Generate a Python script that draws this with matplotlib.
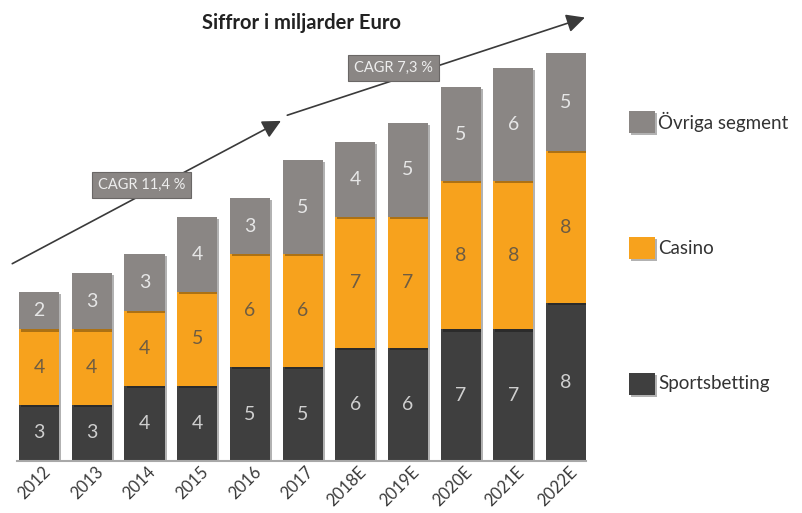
import matplotlib
matplotlib.use('Agg')
import matplotlib.pyplot as plt
import matplotlib.patheffects as pe
import matplotlib.transforms as mtransforms
from matplotlib.patches import Rectangle
import numpy as np

plt.rcParams['font.family'] = ['Lato', 'DejaVu Sans']

# Data (miljarder Euro)
years = ['2012', '2013', '2014', '2015', '2016', '2017',
         '2018E', '2019E', '2020E', '2021E', '2022E']
sportsbetting = [3, 3, 4, 4, 5, 5, 6, 6, 7, 7, 8.4]
casino = [4, 4, 4, 5, 6, 6, 7, 7, 7.9, 7.9, 8.1]
ovriga = [2, 3, 3, 4, 3, 5, 4, 5, 5, 6, 5.2]

series = [('Sportsbetting', sportsbetting, '#3f3f3f', '#cfcfcf'),
          ('Casino', casino, '#f7a21d', '#6e5c42'),
          ('Övriga segment', ovriga, '#8a8684', '#e6e6e6')]

W, H = 803, 513
fig = plt.figure(figsize=(W / 100, H / 100), dpi=100)
ax = fig.add_axes([17 / W, 52 / H, 569 / W, 451 / H])

x = np.arange(len(years))
bottom = np.zeros(len(years))
shadow = [pe.SimplePatchShadow(offset=(1.5, -1.5), shadow_rgbFace='black', alpha=0.3), pe.Normal()]
for name, vals, col, tcol in series:
    vals = np.array(vals, dtype=float)
    bars = ax.bar(x, vals, 0.76, bottom=bottom, color=col, zorder=2)
    for b in bars:
        b.set_path_effects(shadow)
    for xi, v, b0 in zip(x, vals, bottom):
        ax.text(xi, b0 + v / 2, f'{v:.0f}', ha='center', va='center',
                fontsize=14, color=tcol, zorder=3)
    bottom += vals

ax.set_xlim(-0.42, 10.38)
ax.set_ylim(0, 24)
for s in ['top', 'right', 'left']:
    ax.spines[s].set_visible(False)
ax.spines['bottom'].set_color('#a8a8a8')
ax.spines['bottom'].set_linewidth(1.5)
ax.set_yticks([])
ax.set_xticks(x)
ax.set_xticklabels(years, rotation=45, ha='right', va='top', rotation_mode='anchor',
                   fontsize=12, color='#3a3a3a')
ax.tick_params(axis='x', length=0, pad=2)
# skjut etiketterna lite åt höger
offset = mtransforms.ScaledTranslation(3 / 100, 0, fig.dpi_scale_trans)
for lbl in ax.get_xticklabels():
    lbl.set_transform(lbl.get_transform() + offset)

# CAGR-pilar
arrow = dict(arrowstyle='-|>', mutation_scale=28, lw=1.2, color='#3a3a3a',
             shrinkA=0, shrinkB=0)
ax.annotate('', xy=(4.59, 18.1), xytext=(-0.51, 10.5), arrowprops=arrow,
            annotation_clip=False, zorder=1)
ax.annotate('', xy=(10.36, 23.6), xytext=(4.71, 18.4), arrowprops=arrow,
            annotation_clip=False, zorder=1)

box = dict(boxstyle='square,pad=0.4', fc='#8a8684', ec='#6a6766', lw=0.8)
ax.text(1.95, 14.7, 'CAGR 11,4 %', ha='center', va='center', fontsize=10.5,
        color='#eeeeee', bbox=box, zorder=4)
ax.text(6.73, 20.9, 'CAGR 7,3 %', ha='center', va='center', fontsize=10.5,
        color='#eeeeee', bbox=box, zorder=4)

fig.text(302 / W, 1 - 23 / H, 'Siffror i miljarder Euro', ha='center', va='center',
         fontsize=14.5, fontweight='bold', color='#222222')

# Legend
legend_y = {'Övriga segment': 122, 'Casino': 248, 'Sportsbetting': 384}
for name, vals, col, tcol in series:
    yc = legend_y[name]
    r = Rectangle((629 / W, 1 - (yc + 11) / H), 26 / W, 22 / H, transform=fig.transFigure,
                  fc=col, ec='none')
    r.set_path_effects(shadow)
    fig.add_artist(r)
    fig.text(658 / W, 1 - yc / H, name, ha='left', va='center', fontsize=13.5,
             color='#333333')

fig.savefig('out.png', dpi=100)
